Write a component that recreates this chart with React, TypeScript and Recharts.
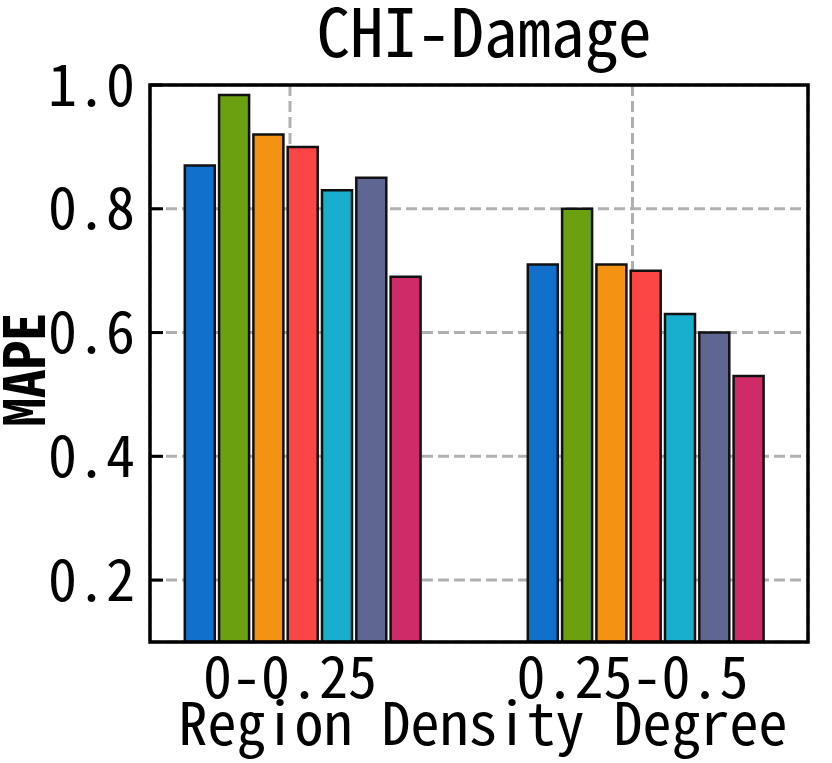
import { BarChart, Bar, XAxis, YAxis, CartesianGrid } from 'recharts';

const categories = ['0-0.25', '0.25-0.5'];
const series1 = [0.87, 0.71];
const series2 = [0.984, 0.8];
const series3 = [0.92, 0.71];
const series4 = [0.9, 0.7];
const series5 = [0.83, 0.63];
const series6 = [0.85, 0.6];
const series7 = [0.69, 0.53];
const yTicks = [0.2, 0.4, 0.6, 0.8, 1.0];

const allSeries = [series1, series2, series3, series4, series5, series6, series7];
const colors = ['#1070cc', '#6ba111', '#f49313', '#fc4646', '#17afcd', '#5f6691', '#cf2b69'];

const font = "'Noto Sans Mono CJK SC', 'Noto Sans Mono', 'DejaVu Sans Mono', monospace";

const data = categories.map((category, i) => {
  const row: Record<string, string | number> = { category };
  allSeries.forEach((s, k) => {
    row[`s${k + 1}`] = s[i];
  });
  return row;
});

export default function App() {
  return (
    <div style={{ position: 'absolute', left: 0, top: 0, width: 832, height: 763 }}>
      <BarChart
        width={832}
        height={763}
        data={data}
        margin={{ top: 85, right: 24, bottom: 0, left: 0 }}
        barSize={30}
        barGap={4.3}
      >
        <CartesianGrid
          xAxisId="main"
          stroke="#b0b0b0"
          strokeWidth={3}
          strokeDasharray="11 5"
        />
        <XAxis
          xAxisId="main"
          dataKey="category"
          interval={0}
          padding={{ left: -31.25, right: 4.25 }}
          axisLine={false}
          tickLine={false}
          tickSize={0}
          tickMargin={-15}
          height={121}
          tick={{ fill: '#000', fontSize: 58, fontFamily: font }}
          label={({ viewBox }: any) => (
            <text
              x={viewBox.x + viewBox.width / 2 + 4}
              y={viewBox.y + 73}
              textAnchor="middle"
              fontSize={58}
              fontFamily={font}
              fill="#000"
            >
              Region Density Degree
            </text>
          )}
        />
        <XAxis
          xAxisId="bars"
          dataKey="category"
          hide
          padding={{ left: -19.2, right: -8.8 }}
        />
        <YAxis
          width={150}
          domain={[0.1, 1.0]}
          ticks={yTicks}
          allowDataOverflow
          axisLine={false}
          tickSize={-13}
          tickMargin={28}
          tickLine={{ stroke: '#000', strokeWidth: 3 }}
          tickFormatter={(v: number) => v.toFixed(1)}
          tick={{ fill: '#000', fontSize: 58, fontFamily: font }}
          label={({ viewBox }: any) => (
            <text
              x={45}
              y={viewBox.y + viewBox.height / 2 + 6}
              transform={`rotate(-90, 45, ${viewBox.y + viewBox.height / 2 + 6})`}
              textAnchor="middle"
              fontSize={57}
              fontWeight="bold"
              fontFamily={font}
              fill="#000"
            >
              MAPE
            </text>
          )}
        />
        {allSeries.map((_, k) => (
          <Bar
            key={k}
            xAxisId="bars"
            dataKey={`s${k + 1}`}
            fill={colors[k]}
            stroke="#111"
            strokeWidth={2.5}
            isAnimationActive={false}
          />
        ))}
      </BarChart>
      <svg
        width={832}
        height={763}
        style={{ position: 'absolute', left: 0, top: 0, pointerEvents: 'none' }}
      >
        <text x={484} y={57} textAnchor="middle" fontSize={67} fontFamily={font} fill="#000">
          CHI-Damage
        </text>
        <rect x={150} y={85} width={658} height={557} fill="none" stroke="#000" strokeWidth={3.5} />
      </svg>
    </div>
  );
}
